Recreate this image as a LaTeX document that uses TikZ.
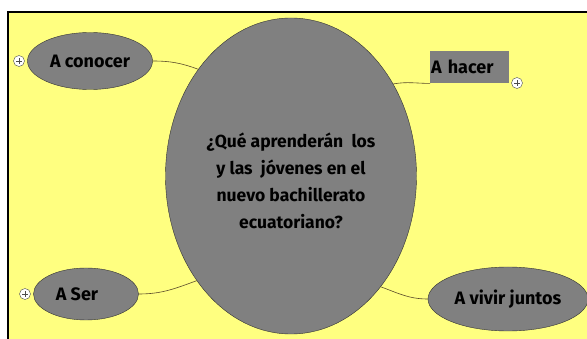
\documentclass[tikz,border=0pt]{standalone}
\usepackage{fontspec}
\setmainfont{Fira Sans}
\usetikzlibrary{shapes.geometric}
\definecolor{paper}{HTML}{FFFF80}
\definecolor{bubble}{HTML}{808080}
\definecolor{link}{HTML}{5A4A2A}
\tikzset{
  idea/.style={draw=black!80,fill=bubble,ellipse,inner sep=0pt,font=\bfseries\fontsize{18}{20}\selectfont},
  expander/.style={draw=black!70,fill=white,circle,minimum size=11pt,inner sep=0pt,
    path picture={\draw[line width=0.9pt] ([xshift=-3pt]path picture bounding box.center) -- ([xshift=3pt]path picture bounding box.center);
      \draw[line width=0.9pt] ([yshift=-3pt]path picture bounding box.center) -- ([yshift=3pt]path picture bounding box.center);}},
  branch/.style={draw=link,line width=0.6pt}
}
\begin{document}
\begin{tikzpicture}[x=1pt,y=-1pt]
  \useasboundingbox (0,0) rectangle (587,339);
  \fill[paper] (8,12) rectangle (587,339);
  \draw[line width=1.3pt] (8,339) -- (8,12) -- (587,12);

  \node[idea,minimum width=251pt,minimum height=316pt] (main) at (291,176) {};
  \node[font=\bfseries\fontsize{17.5}{27}\selectfont,align=center,inner sep=0pt] (question) at ([yshift=-5pt]main.center)
    {¿Qué aprenderán\ \ los\\y las\ \ jóvenes en el\\nuevo bachillerato\\ecuatoriano?};
  \node[idea,minimum width=125pt,minimum height=57pt] (conocer) at (90,61) {A conocer};
  \node[idea,minimum width=105pt,minimum height=52pt] (ser) at (86,294) {\hspace{-18pt}A Ser};
  \node[idea,minimum width=160pt,minimum height=64pt] (vivir) at (508,299) {A vivir juntos};
  \node[fill=bubble,minimum width=79pt,minimum height=32pt,inner sep=1pt,anchor=north west,align=left,text width=77pt,
        font=\bfseries\fontsize{18}{20}\selectfont] (hacer) at (430,51) {\raisebox{1pt}{A hacer}};

  \node[expander] (plus1) at (19,61) {};
  \node[expander] (plus2) at (25,294) {};
  \node[expander] (plus3) at (517,83) {};

  \draw[branch] (conocer.east) to[out=0,in=160] (main.131);
  \draw[branch] (hacer.south west) to[out=180,in=10] (main.42);
  \draw[branch] (ser.east) to[out=0,in=200] (main.228);
  \draw[branch] (vivir.west) to[out=180,in=-20] (main.309);
\end{tikzpicture}
\end{document}
